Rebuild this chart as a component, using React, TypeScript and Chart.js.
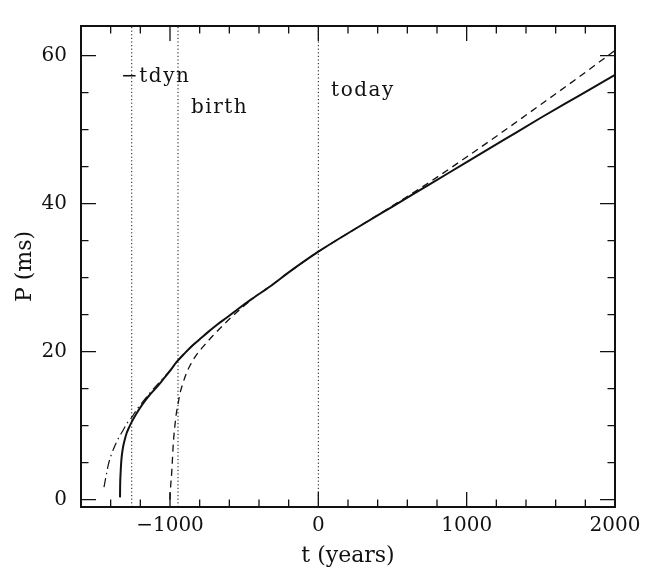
import React, { useEffect, useRef } from "react";
import { Chart, registerables } from "chart.js";

Chart.register(...registerables);

// Spin period P (ms) against time t (years) for three spin-down histories
const solidT = [-1337, -1336, -1333, -1328, -1319, -1305, -1292, -1275, -1258, -1230, -1202, -1170, -1135, -1089, -1040, -1000, -955, -900, -850, -798, -740, -685, -610, -539, -450, -326, -200, 0, 250, 500, 750, 1000, 1250, 1500, 1750, 2000];
const solidP = [0.3, 2.0, 3.6, 5.3, 6.8, 8.1, 9.0, 9.8, 10.5, 11.5, 12.4, 13.3, 14.2, 15.2, 16.4, 17.4, 18.6, 19.8, 20.8, 21.7, 22.7, 23.6, 24.7, 25.8, 27.1, 28.8, 30.7, 33.5, 36.6, 39.6, 42.6, 45.6, 48.6, 51.6, 54.5, 57.4];

const dashDotT = [-1445, -1430, -1416, -1395, -1371, -1345, -1315, -1290, -1258, -1220, -1180, -1140, -1101, -1060, -1020, -985, -955, -900, -850, -798];
const dashDotP = [1.7, 3.3, 4.7, 6.1, 7.3, 8.4, 9.4, 10.3, 11.1, 12.3, 13.3, 14.3, 15.2, 16.1, 17.0, 17.8, 18.6, 19.8, 20.8, 21.7];

const dashedT = [-1001, -995, -988, -978, -968, -959, -945, -932, -910, -887, -860, -831, -800, -775, -740, -708, -640, -573, -500, -420, -326, -200, 0, 250, 500, 750, 1000, 1250, 1500, 1750, 2000];
const dashedP = [0.0, 2.0, 3.8, 7.5, 9.8, 11.4, 13.0, 14.4, 15.9, 17.2, 18.3, 19.3, 20.1, 20.7, 21.5, 22.2, 23.6, 24.9, 26.2, 27.5, 28.8, 30.7, 33.5, 36.6, 39.7, 42.9, 46.3, 49.8, 53.4, 57.0, 60.7];

// Epoch markers (years)
const tdynT = -1258;
const birthT = -946;
const todayT = 0;

// Axis ranges and tick values
const xMin = -1600;
const xMax = 2000;
const yMin = -1;
const yMax = 64;
const xLabelTicks = [-1000, 0, 1000, 2000];
const yLabelTicks = [0, 20, 40, 60];
const xMinorStep = 200;
const xMajorStep = 1000;
const yMinorStep = 5;
const yMajorStep = 20;

// Text labels placed in data coordinates
const markerLabels = [
  { text: "\u2212tdyn", t: -1330, p: 57.2 },
  { text: "birth", t: -858, p: 52.9 },
  { text: "today", t: 86, p: 55.3 },
];

const FONT = "'DejaVu Serif', serif";
const INK = "#111";

const toPoints = (xs: number[], ys: number[]) => xs.map((x, i) => ({ x, y: ys[i] }));

const frameAndTicks = {
  id: "frameAndTicks",
  afterDatasetsDraw(chart: any) {
    const { ctx, chartArea, scales } = chart;
    const { left, right, top, bottom } = chartArea;
    const xs = scales.x;
    const ys = scales.y;
    ctx.save();
    ctx.strokeStyle = INK;
    ctx.lineWidth = 1.3;
    ctx.beginPath();
    for (let v = Math.ceil(xMin / xMinorStep) * xMinorStep; v <= xMax; v += xMinorStep) {
      const px = xs.getPixelForValue(v);
      const len = v % xMajorStep === 0 ? 15 : 7.5;
      ctx.moveTo(px, bottom);
      ctx.lineTo(px, bottom - len);
      ctx.moveTo(px, top);
      ctx.lineTo(px, top + len);
    }
    for (let v = Math.ceil(yMin / yMinorStep) * yMinorStep; v <= yMax; v += yMinorStep) {
      const py = ys.getPixelForValue(v);
      const len = v % yMajorStep === 0 ? 15 : 7.5;
      ctx.moveTo(left, py);
      ctx.lineTo(left + len, py);
      ctx.moveTo(right, py);
      ctx.lineTo(right - len, py);
    }
    ctx.stroke();
    ctx.lineWidth = 2;
    ctx.strokeRect(left, top, right - left, bottom - top);

    ctx.fillStyle = INK;
    ctx.font = `20px ${FONT}`;
    ctx.letterSpacing = "1.5px";
    ctx.textAlign = "left";
    ctx.textBaseline = "middle";
    for (const l of markerLabels) {
      ctx.fillText(l.text, xs.getPixelForValue(l.t), ys.getPixelForValue(l.p));
    }
    ctx.restore();
  },
};

export default function App() {
  const canvasRef = useRef<HTMLCanvasElement | null>(null);

  useEffect(() => {
    const canvas = canvasRef.current;
    if (!canvas) return;

    const markerLine = (t: number) => ({
      data: [
        { x: t, y: yMin },
        { x: t, y: yMax },
      ],
      borderColor: INK,
      borderWidth: 1,
      borderDash: [1.2, 2.4],
      pointRadius: 0,
      fill: false,
    });

    const chart = new Chart(canvas, {
      type: "line",
      data: {
        datasets: [
          markerLine(tdynT),
          markerLine(birthT),
          markerLine(todayT),
          {
            data: toPoints(dashDotT, dashDotP),
            borderColor: INK,
            borderWidth: 1.2,
            borderDash: [9, 4, 1.5, 4],
            pointRadius: 0,
            cubicInterpolationMode: "monotone",
            fill: false,
          },
          {
            data: toPoints(dashedT, dashedP),
            borderColor: INK,
            borderWidth: 1.3,
            borderDash: [7, 5],
            pointRadius: 0,
            cubicInterpolationMode: "monotone",
            fill: false,
          },
          {
            data: toPoints(solidT, solidP),
            borderColor: INK,
            borderWidth: 2,
            pointRadius: 0,
            cubicInterpolationMode: "monotone",
            fill: false,
          },
        ],
      },
      options: {
        animation: false,
        responsive: false,
        devicePixelRatio: 1,
        layout: { padding: { top: 4, right: 45, left: 0, bottom: 0 } },
        plugins: {
          legend: { display: false },
          tooltip: { enabled: false },
        },
        scales: {
          x: {
            type: "linear",
            min: xMin,
            max: xMax,
            grid: { display: false, drawTicks: false, tickLength: 0 },
            border: { display: false },
            afterBuildTicks: (s: any) => {
              s.ticks = xLabelTicks.map((value) => ({ value }));
            },
            afterFit: (s: any) => {
              s.height = 67;
            },
            ticks: {
              autoSkip: false,
              maxRotation: 0,
              padding: 7,
              color: INK,
              font: { family: FONT, size: 20 },
              callback: (v: any) => (v < 0 ? "\u2212" + Math.abs(v) : String(v)),
            },
            title: {
              display: true,
              text: "t (years)",
              color: INK,
              font: { family: FONT, size: 22 },
              padding: { top: 0, bottom: 5 },
            },
          },
          y: {
            type: "linear",
            min: yMin,
            max: yMax,
            grid: { display: false, drawTicks: false, tickLength: 0 },
            border: { display: false },
            afterBuildTicks: (s: any) => {
              s.ticks = yLabelTicks.map((value) => ({ value }));
            },
            afterFit: (s: any) => {
              s.width = 81;
            },
            ticks: {
              autoSkip: false,
              padding: 14,
              color: INK,
              font: { family: FONT, size: 20 },
            },
            title: {
              display: true,
              text: "P (ms)",
              color: INK,
              font: { family: FONT, size: 22 },
              padding: { top: 12, bottom: 0 },
            },
          },
        },
      },
      plugins: [frameAndTicks],
    } as any);

    return () => chart.destroy();
  }, []);

  return (
    <div style={{ position: "fixed", left: 0, top: 0, width: 660, height: 574, background: "#fff" }}>
      <canvas ref={canvasRef} width={660} height={574} />
    </div>
  );
}
